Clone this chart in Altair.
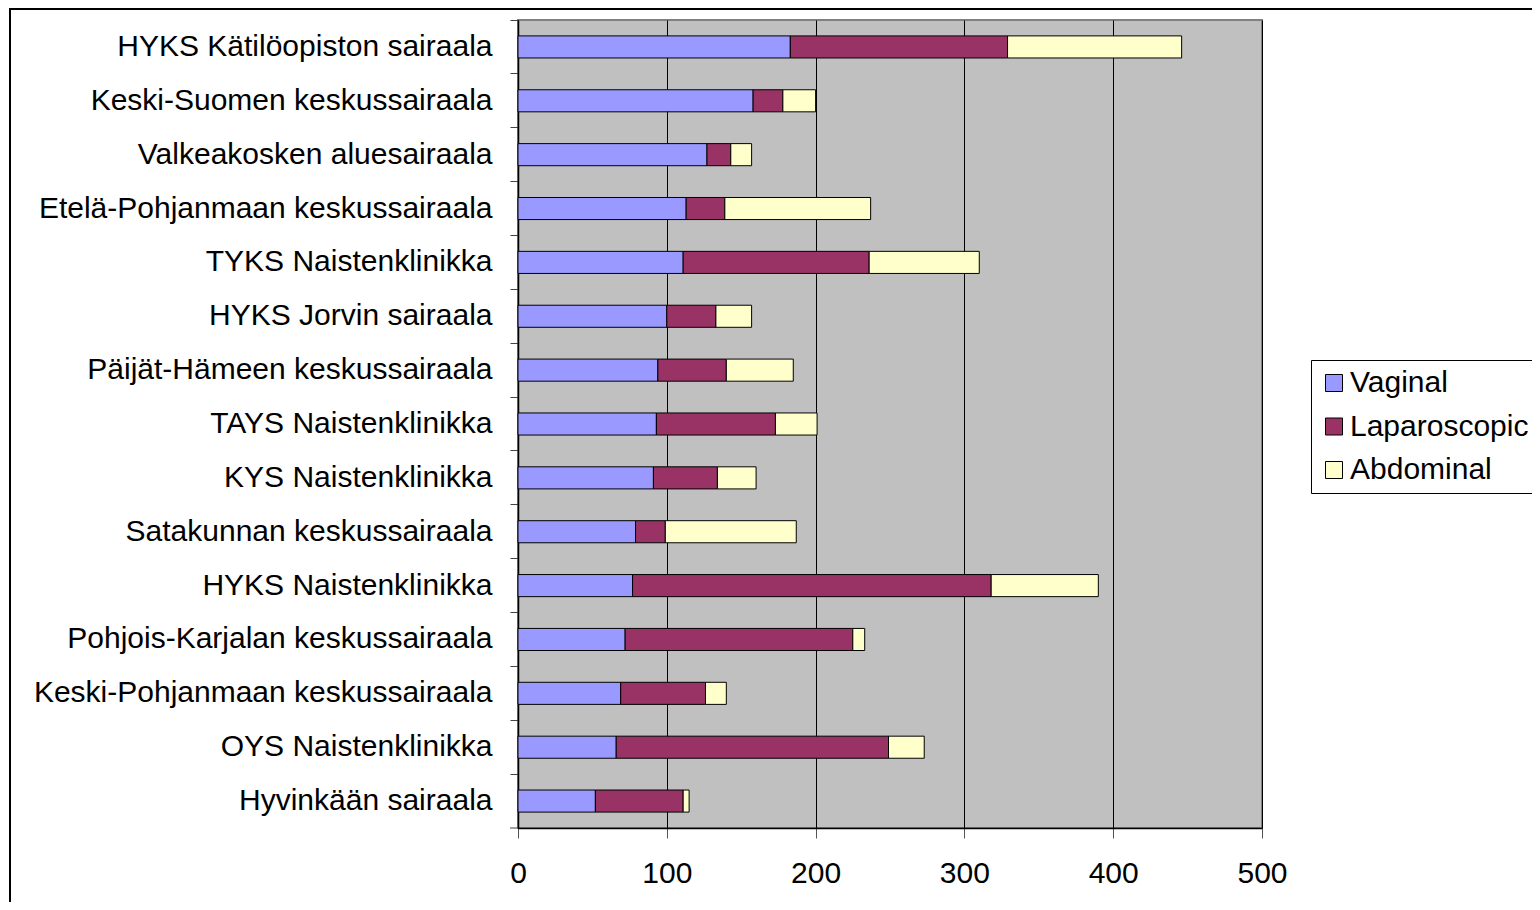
import altair as alt
import pandas as pd

hospitals = [
    "HYKS Kätilöopiston sairaala",
    "Keski-Suomen keskussairaala",
    "Valkeakosken aluesairaala",
    "Etelä-Pohjanmaan keskussairaala",
    "TYKS Naistenklinikka",
    "HYKS Jorvin sairaala",
    "Päijät-Hämeen keskussairaala",
    "TAYS Naistenklinikka",
    "KYS Naistenklinikka",
    "Satakunnan keskussairaala",
    "HYKS Naistenklinikka",
    "Pohjois-Karjalan keskussairaala",
    "Keski-Pohjanmaan keskussairaala",
    "OYS Naistenklinikka",
    "Hyvinkään sairaala",
]
vaginal = [183, 158, 127, 113, 111, 100, 94, 93, 91, 79, 77, 72, 69, 66, 52]
laparoscopic = [146, 20, 16, 26, 125, 33, 46, 80, 43, 20, 241, 153, 57, 183, 59]
abdominal = [117, 22, 14, 98, 74, 24, 45, 28, 26, 88, 72, 8, 14, 24, 4]

series = ["Vaginal", "Laparoscopic", "Abdominal"]
colors = ["#9999FF", "#993366", "#FFFFCC"]
x_ticks = [0, 100, 200, 300, 400, 500]

rows = []
for i, h in enumerate(hospitals):
    for k, (s, vals) in enumerate(zip(series, [vaginal, laparoscopic, abdominal])):
        rows.append({"Hospital": h, "Type": s, "Count": vals[i], "ord": k})
df = pd.DataFrame(rows)

FONT = "Liberation Sans"
FS = 30
W, H = 744, 808

bars = alt.Chart(df).mark_bar(
    height=alt.RelativeBandSize(0.41), stroke="black", strokeWidth=1
).encode(
    x=alt.X(
        "Count:Q",
        scale=alt.Scale(domain=[0, 500], nice=False),
        stack="zero",
        axis=alt.Axis(
            values=x_ticks, title=None, grid=True, gridColor="black", gridWidth=1,
            gridOpacity=1, domainColor="black", domainWidth=1.5, tickColor="#555555",
            tickSize=10, labelFontSize=FS, labelFont=FONT, labelColor="black",
            labelPadding=20, labelFlush=False,
        ),
    ),
    y=alt.Y(
        "Hospital:N",
        sort=hospitals,
        scale=alt.Scale(paddingInner=0, paddingOuter=0),
        axis=alt.Axis(
            title=None, bandPosition=0, tickSize=8,
            tickColor="#444444", domainColor="black", domainWidth=1.5,
            labelFontSize=FS, labelFont=FONT, labelColor="black", labelPadding=18,
            labelLimit=600, grid=False,
        ),
    ),
    color=alt.Color(
        "Type:N",
        scale=alt.Scale(domain=series, range=colors),
        legend=alt.Legend(
            title=None, orient="none", legendX=793, legendY=340,
            symbolType="square", symbolSize=289, symbolStrokeColor="black",
            symbolStrokeWidth=1, symbolOpacity=1, labelFontSize=FS, labelFont=FONT,
            labelColor="black", labelOffset=1, rowPadding=13.5, padding=8,
            strokeColor="black", fillColor="white", labelLimit=400,
        ),
    ),
    order=alt.Order("ord:Q"),
)

one = pd.DataFrame({"a": [0]})
bottom_tick = alt.Chart(one).mark_rule(color="#444444", strokeWidth=1).encode(
    x=alt.value(-8), x2=alt.value(0), y=alt.value(H), y2=alt.value(H)
)
left_border = alt.Chart(one).mark_rule(color="black", strokeWidth=2).encode(
    x=alt.value(-508), y=alt.value(-12), y2=alt.value(H + 90)
)
top_border = alt.Chart(one).mark_rule(color="black", strokeWidth=2).encode(
    x=alt.value(-508), x2=alt.value(1020), y=alt.value(-11), y2=alt.value(-11)
)

chart = alt.layer(bars, bottom_tick, left_border, top_border).properties(
    width=W, height=H,
    autosize=alt.AutoSizeParams(type="none"),
    padding={"left": 510, "top": 12, "right": 270, "bottom": 74},
    background="white",
).configure_view(
    fill="#C0C0C0", stroke="#808080", strokeWidth=2
)

chart.save("out.html", embed_options={"renderer": "svg", "actions": False})
